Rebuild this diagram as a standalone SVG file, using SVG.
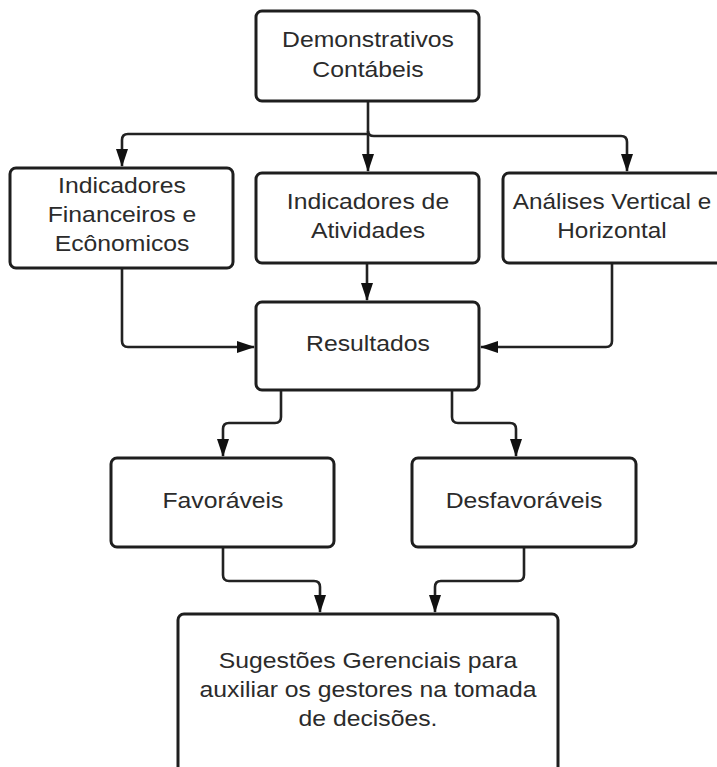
<svg xmlns="http://www.w3.org/2000/svg" width="717" height="767" viewBox="0 0 717 767">
  <style>
    .box { fill: #ffffff; stroke: #1e1e1e; stroke-width: 3; }
    .lbl { font-family: "Liberation Sans", Arial, sans-serif; font-size: 22.5px; fill: #2b2b2b; text-anchor: middle; }
    .link { fill: none; stroke: #222222; stroke-width: 2.6; marker-end: url(#arrow); }
  </style>
  <defs>
    <marker id="arrow" viewBox="0 -6 18 12" refX="17" refY="0" markerWidth="18" markerHeight="12" markerUnits="userSpaceOnUse" orient="auto">
      <path d="M0,-6 L18,0 L0,6 z" fill="#111111"/>
    </marker>
  </defs>
  <rect width="717" height="767" fill="#ffffff"/>

  <g id="connectors">
    <!-- from Demonstrativos Contábeis -->
    <path class="link" d="M368,101 V171"/>
    <path class="link" d="M368,134 H128 Q122,134 122,140 V166"/>
    <path class="link" d="M368,131 Q368,136 374,136 H621 Q627,136 627,142 V171"/>
    <!-- into Resultados -->
    <path class="link" d="M367,263 V300"/>
    <path class="link" d="M122,268 V341 Q122,347 128,347 H254"/>
    <path class="link" d="M612,263 V341 Q612,347 606,347 H481"/>
    <!-- from Resultados -->
    <path class="link" d="M281,391 V417 Q281,423 275,423 H229 Q223,423 223,429 V456"/>
    <path class="link" d="M452,391 V417 Q452,423 458,423 H510 Q516,423 516,429 V456"/>
    <!-- into Sugestões -->
    <path class="link" d="M223,548 V575 Q223,581 229,581 H314 Q320,581 320,587 V612"/>
    <path class="link" d="M524,548 V575 Q524,581 518,581 H441 Q435,581 435,587 V612"/>
  </g>

  <g id="demonstrativos">
    <rect class="box" x="256" y="11" width="223" height="90" rx="6"/>
    <g transform="translate(368,0) scale(1.1,1)">
      <text class="lbl" x="0" y="47">Demonstrativos</text>
      <text class="lbl" x="0" y="77">Contábeis</text>
    </g>
  </g>

  <g id="ind-financeiros">
    <rect class="box" x="10" y="168" width="223" height="100" rx="6"/>
    <g transform="translate(122,0) scale(1.1,1)">
      <text class="lbl" x="0" y="193">Indicadores</text>
      <text class="lbl" x="0" y="222">Financeiros e</text>
      <text class="lbl" x="0" y="251">Ecônomicos</text>
    </g>
  </g>

  <g id="ind-atividades">
    <rect class="box" x="256" y="173" width="223" height="90" rx="6"/>
    <g transform="translate(368,0) scale(1.1,1)">
      <text class="lbl" x="0" y="209">Indicadores de</text>
      <text class="lbl" x="0" y="238">Atividades</text>
    </g>
  </g>

  <g id="analises">
    <rect class="box" x="503" y="173" width="220" height="90" rx="6"/>
    <g transform="translate(612,0) scale(1.08,1)">
      <text class="lbl" x="0" y="209">Análises Vertical e</text>
      <text class="lbl" x="0" y="238">Horizontal</text>
    </g>
  </g>

  <g id="resultados">
    <rect class="box" x="256" y="302" width="223" height="88" rx="6"/>
    <g transform="translate(368,0) scale(1.1,1)">
      <text class="lbl" x="0" y="351">Resultados</text>
    </g>
  </g>

  <g id="favoraveis">
    <rect class="box" x="111" y="458" width="223" height="89" rx="6"/>
    <g transform="translate(223,0) scale(1.1,1)">
      <text class="lbl" x="0" y="508">Favoráveis</text>
    </g>
  </g>

  <g id="desfavoraveis">
    <rect class="box" x="412" y="458" width="224" height="89" rx="6"/>
    <g transform="translate(524,0) scale(1.1,1)">
      <text class="lbl" x="0" y="508">Desfavoráveis</text>
    </g>
  </g>

  <g id="sugestoes">
    <rect class="box" x="178" y="614" width="380" height="170" rx="6"/>
    <g transform="translate(368,0) scale(1.1,1)">
      <text class="lbl" x="0" y="668">Sugestões Gerenciais para</text>
      <text class="lbl" x="0" y="697">auxiliar os gestores na tomada</text>
      <text class="lbl" x="0" y="726">de decisões.</text>
    </g>
  </g>
</svg>
